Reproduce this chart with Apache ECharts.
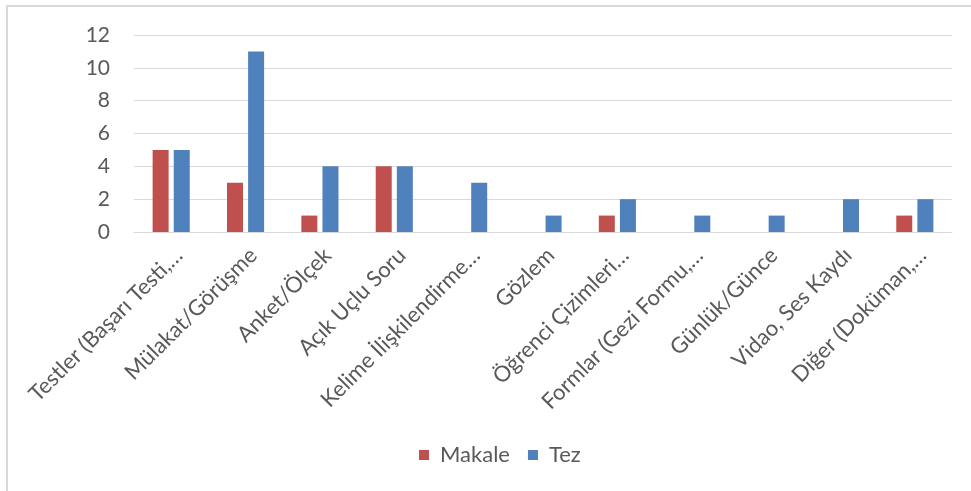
<!DOCTYPE html>
<html>
<head>
<meta charset="utf-8">
<script src="https://cdn.jsdelivr.net/npm/echarts@6/dist/echarts.min.js"></script>
<style>
  html, body { margin: 0; padding: 0; background: #fff; }
  #chart { width: 971px; height: 491px; }
</style>
</head>
<body>
<div id="chart"></div>
<script>
// Veri toplama araçları: makale ve tez sayıları
const categories = [
  'Testler (Başarı Testi,…',
  'Mülakat/Görüşme',
  'Anket/Ölçek',
  'Açık Uçlu Soru',
  'Kelime İlişkilendirme…',
  'Gözlem',
  'Öğrenci Çizimleri…',
  'Formlar (Gezi Formu,…',
  'Günlük/Günce',
  'Vidao, Ses Kaydı',
  'Diğer (Doküman,…'
];
const makale = [5, 3, 1, 4, 0, 0, 1, 0, 0, 0, 1];
const tez = [5, 11, 4, 4, 3, 1, 2, 1, 1, 2, 2];
const yTicks = { min: 0, max: 12, interval: 2 };

const FONT = 'Lato';
const TEXT = '#595959';

const chart = echarts.init(document.getElementById('chart'));
chart.setOption({
  animation: false,
  textStyle: { fontFamily: FONT },
  graphic: [{
    type: 'rect',
    shape: { x: 7, y: 6, width: 1200, height: 1000 },
    style: { fill: 'none', stroke: '#d9d9d9', lineWidth: 2 },
    silent: true
  }],
  grid: { left: 134, right: 19, top: 35, bottom: 259 },
  legend: {
    bottom: 20,
    left: 414,
    itemWidth: 10,
    itemHeight: 10,
    itemGap: 18,
    icon: 'rect',
    textStyle: { color: TEXT, fontSize: 22, fontFamily: FONT, padding: [0, 0, 0, 6] },
    data: ['Makale', 'Tez']
  },
  xAxis: {
    type: 'category',
    data: categories,
    axisLine: { lineStyle: { color: '#d9d9d9', width: 1 } },
    axisTick: { show: false },
    axisLabel: {
      rotate: 45,
      interval: 0,
      color: TEXT,
      fontSize: 22,
      fontFamily: FONT,
      verticalAlign: 'top',
      margin: 12
    }
  },
  yAxis: {
    type: 'value',
    min: yTicks.min,
    max: yTicks.max,
    interval: yTicks.interval,
    axisLine: { show: false },
    axisTick: { show: false },
    axisLabel: { color: TEXT, fontSize: 21, fontFamily: FONT, margin: 24 },
    splitLine: { lineStyle: { color: '#d9d9d9', width: 1 } }
  },
  series: [
    {
      name: 'Makale',
      type: 'bar',
      data: makale,
      barWidth: 16,
      barGap: '32%',
      itemStyle: { color: '#C0504D' }
    },
    {
      name: 'Tez',
      type: 'bar',
      data: tez,
      barWidth: 16,
      itemStyle: { color: '#4F81BD' }
    }
  ]
});
</script>
</body>
</html>
